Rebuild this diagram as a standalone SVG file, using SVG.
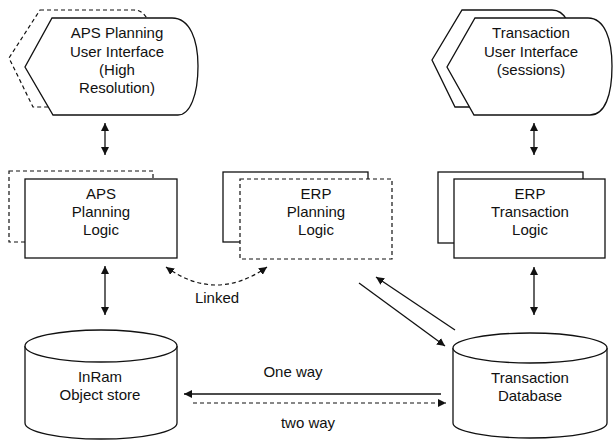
<svg xmlns="http://www.w3.org/2000/svg" width="613" height="440" viewBox="0 0 613 440">
<style>
.s{fill:#fff;stroke:#111;stroke-width:1.3}
.d{fill:#fff;stroke:#111;stroke-width:1.2;stroke-dasharray:4 3}
.t{font-family:"Liberation Sans",Arial,sans-serif;font-size:15px;fill:#111;text-anchor:middle}
.c{fill:none;stroke:#111;stroke-width:1.3}
.cd{fill:none;stroke:#111;stroke-width:1.2;stroke-dasharray:4 3}
</style>
<defs>
<marker id="ah" viewBox="0 0 10 10" refX="10" refY="5" markerWidth="8" markerHeight="8" markerUnits="userSpaceOnUse" orient="auto-start-reverse">
<path d="M0,0 L10,5 L0,10 Z" fill="#111"/>
</marker>
</defs>
<rect width="613" height="440" fill="#fff"/>
<g id="aps-ui">
<path class="d" d="M40,10 L134,10 C140,10 144,13 148,20 L150,107 L33,107 L9,58 Z"/>
<path class="s" d="M52,18 L172,18 C190,18 198,40 198,66 C198,95 190,115 178,115 L53,115 L25,67 Z"/>
<text class="t" x="117" y="38">APS Planning</text>
<text class="t" x="117" y="57">User Interface</text>
<text class="t" x="117" y="75">(High</text>
<text class="t" x="117" y="93">Resolution)</text>
</g>
<g id="trans-ui">
<path class="s" d="M462,10 L552,10 C558,10 563,13 567,20 L570,107 L455,107 L432,60 Z"/>
<path class="s" d="M475,18 L588,18 C605,18 612,40 612,66 C612,95 605,115 590,115 L474,115 L447,67 Z"/>
<text class="t" x="531" y="38">Transaction</text>
<text class="t" x="531" y="57">User Interface</text>
<text class="t" x="531" y="75">(sessions)</text>
</g>
<g id="aps-logic">
<rect class="d" x="9" y="171" width="144" height="71"/>
<rect class="s" x="25" y="179" width="152" height="79"/>
<text class="t" x="101" y="199">APS</text>
<text class="t" x="101" y="217">Planning</text>
<text class="t" x="101" y="235">Logic</text>
</g>
<g id="erp-planning">
<rect class="s" x="223" y="172" width="145" height="70"/>
<rect class="d" x="240" y="179" width="152" height="80"/>
<text class="t" x="316" y="199">ERP</text>
<text class="t" x="316" y="217">Planning</text>
<text class="t" x="316" y="235">Logic</text>
</g>
<g id="erp-transaction">
<rect class="s" x="438" y="172" width="145" height="71"/>
<rect class="s" x="454" y="179" width="151" height="79"/>
<text class="t" x="530" y="199">ERP</text>
<text class="t" x="530" y="217">Transaction</text>
<text class="t" x="530" y="235">Logic</text>
</g>
<g id="inram">
<path class="s" d="M25,346 L25,423 A76,16 0 0 0 177,423 L177,346"/>
<ellipse class="s" cx="101" cy="346" rx="76" ry="16"/>
<text class="t" x="100" y="382">InRam</text>
<text class="t" x="100" y="400">Object store</text>
</g>
<g id="transdb">
<path class="s" d="M453,348 L453,423 A77,15 0 0 0 607,423 L607,348"/>
<ellipse class="s" cx="530" cy="348" rx="77" ry="15"/>
<text class="t" x="530" y="383">Transaction</text>
<text class="t" x="530" y="401">Database</text>
</g>
<g id="connectors">
<line class="c" x1="105" y1="123" x2="105" y2="155" marker-start="url(#ah)" marker-end="url(#ah)"/>
<line class="c" x1="534" y1="123" x2="534" y2="155" marker-start="url(#ah)" marker-end="url(#ah)"/>
<line class="c" x1="105" y1="266" x2="105" y2="315" marker-start="url(#ah)" marker-end="url(#ah)"/>
<line class="c" x1="534" y1="267" x2="534" y2="315" marker-start="url(#ah)" marker-end="url(#ah)"/>
<path class="cd" d="M166,267 Q216,303 267,267" marker-start="url(#ah)" marker-end="url(#ah)"/>
<line class="c" x1="455" y1="330" x2="376" y2="277" marker-end="url(#ah)"/>
<line class="c" x1="359" y1="283" x2="445" y2="346" marker-end="url(#ah)"/>
<line class="c" x1="441" y1="394" x2="184" y2="394" marker-end="url(#ah)"/>
<line class="cd" x1="193" y1="403" x2="446" y2="403" marker-end="url(#ah)"/>
<text class="t" x="217" y="303">Linked</text>
<text class="t" x="293" y="377">One way</text>
<text class="t" x="308" y="428">two way</text>
</g>
</svg>
